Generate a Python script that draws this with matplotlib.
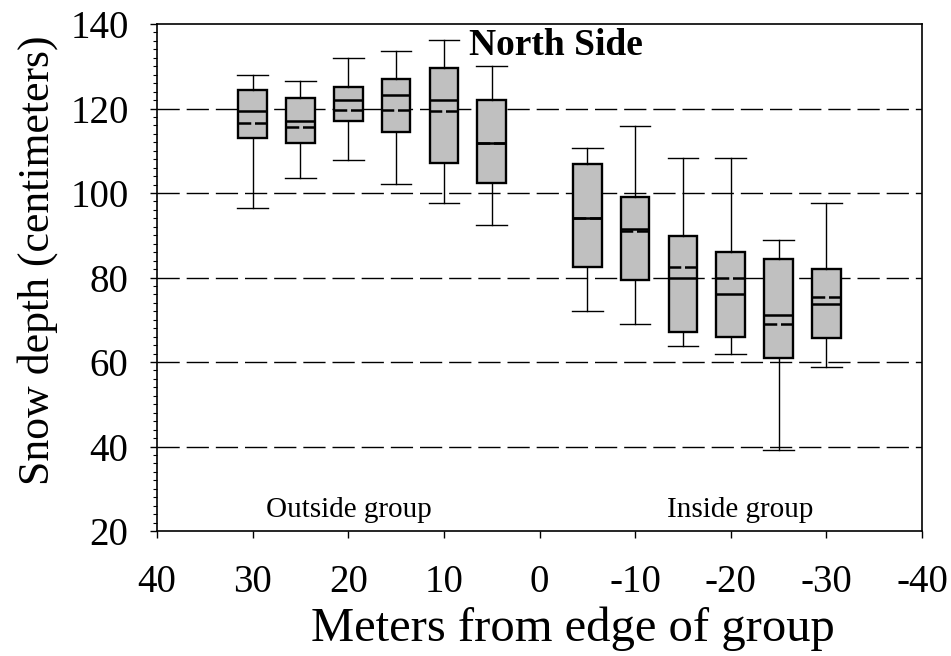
import matplotlib
matplotlib.use('Agg')  # headless
import matplotlib.pyplot as plt
from matplotlib.ticker import MultipleLocator

# distance from group edge (m), positive = outside
dist = [30, 25, 20, 15, 10, 5, -5, -10, -15, -20, -25, -30]
whis_hi = [127.9, 126.5, 132.0, 133.7, 136.2, 130.1, 110.7, 115.9, 108.4, 108.4, 88.9, 97.7]
q3 = [124.4, 122.6, 125.1, 127.0, 129.5, 121.9, 106.8, 99.1, 89.8, 86.1, 84.5, 81.9]
median = [119.5, 117.0, 122.0, 123.2, 122.0, 111.9, 94.0, 91.4, 80.0, 76.2, 71.1, 73.7]
mean = [116.5, 115.7, 119.6, 119.6, 119.3, 111.9, 94.0, 91.0, 82.6, 80.0, 68.9, 75.5]
q1 = [113.1, 111.8, 117.0, 114.4, 107.2, 102.4, 82.6, 79.4, 67.2, 66.0, 61.0, 65.8]
whis_lo = [96.5, 103.5, 107.8, 102.2, 97.7, 92.5, 72.1, 69.0, 63.9, 61.9, 39.2, 58.9]

stats = []
for i in range(len(dist)):
    stats.append(dict(med=median[i], q1=q1[i], q3=q3[i], whislo=whis_lo[i],
                      whishi=whis_hi[i], mean=mean[i], fliers=[]))

plt.rcParams['font.family'] = ['Liberation Serif', 'DejaVu Serif']
plt.rcParams['axes.unicode_minus'] = False

fig = plt.figure(figsize=(9.51, 6.56), dpi=100)
ax = fig.add_axes([0.1651, 0.1905, 0.8044, 0.7729])

for y in [40, 60, 80, 100, 120]:
    ax.axhline(y, color='black', lw=1.0, dashes=(16, 5), zorder=1)

ax.bxp(stats, positions=dist, widths=3.0, patch_artist=True,
       showmeans=True, meanline=True, showfliers=False,
       boxprops=dict(facecolor='#c0c0c0', edgecolor='black', linewidth=1.7),
       medianprops=dict(color='black', linewidth=1.8),
       meanprops=dict(color='black', linewidth=1.8, linestyle=(0, (5.0, 1.5))),
       whiskerprops=dict(color='black', linewidth=1.0),
       capprops=dict(color='black', linewidth=1.0), capwidths=3.2,
       zorder=2, manage_ticks=False)

ax.set_xlim(40, -40)
ax.set_ylim(20, 140)
ax.xaxis.set_major_locator(MultipleLocator(10))
ax.yaxis.set_major_locator(MultipleLocator(20))
ax.yaxis.set_minor_locator(MultipleLocator(2))
ax.tick_params(axis='both', which='major', direction='out', length=5, width=1.0,
               labelsize=28)
ax.tick_params(axis='y', which='major', pad=15.5)
ax.tick_params(axis='x', which='major', pad=19)
ax.tick_params(axis='y', which='minor', direction='out', length=3, width=0.8)
for s in ax.spines.values():
    s.set_linewidth(1.2)

ax.set_xlabel("Meters from edge of group", fontsize=35, labelpad=4)
ax.set_ylabel("Snow depth (centimeters)", fontsize=31.5, labelpad=9)
ax.xaxis.label.set_x(0.544)
ax.yaxis.label.set_y(0.534)

ax.text(19.9, 25, "Outside group", fontsize=21, ha='center', va='center')
ax.text(-21.0, 25, "Inside group", fontsize=21, ha='center', va='center')
ax.text(-1.7, 135, "North Side", fontsize=27, fontweight='bold', ha='center', va='center')

plt.savefig("out.png", dpi=100)
plt.close()
